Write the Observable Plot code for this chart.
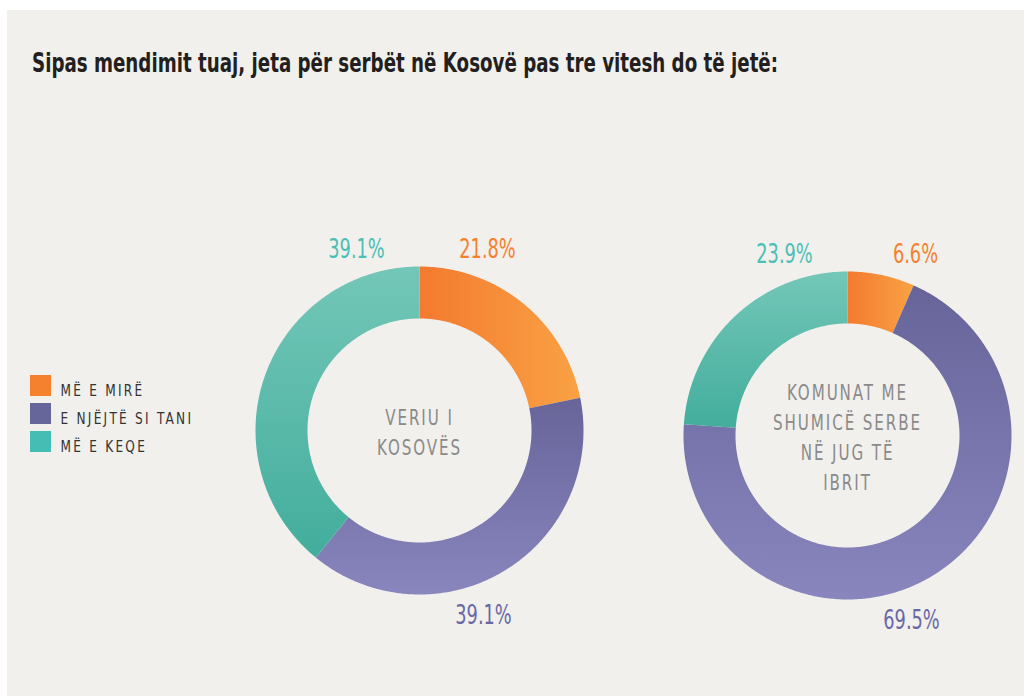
<!DOCTYPE html>
<html>
<head>
<meta charset="utf-8">
<script src="https://cdn.jsdelivr.net/npm/d3@7"></script>
<script src="https://cdn.jsdelivr.net/npm/@observablehq/plot@0.6"></script>
<style>
  html, body { margin: 0; padding: 0; background: #ffffff; }
  #frame { position: absolute; left: 7px; top: 10px; width: 1017px; height: 686px; background: #f1f0ec; overflow: hidden; }
  #title { position: absolute; left: 25px; top: 40px; margin: 0; font-family: "DejaVu Sans Condensed", "DejaVu Sans", sans-serif; font-weight: 700; font-size: 26px; line-height: 26px; color: #231f20; white-space: nowrap; transform: scaleX(0.78); transform-origin: 0 0; }
  #chart { position: absolute; left: 0; top: 90px; }
  g[aria-description="legend-text"] text { letter-spacing: 2.5px; }
  g[aria-description="center-text"] text { letter-spacing: 2.4px; }
</style>
</head>
<body>
<div id="frame">
  <div id="title">Sipas mendimit tuaj, jeta për serbët në Kosovë pas tre vitesh do të jetë:</div>
  <div id="chart"></div>
</div>
<script>
// ---- data ----
const categories = ["MË E MIRË", "E NJËJTË SI TANI", "MË E KEQE"];
const regions = ["VERIU I KOSOVËS", "KOMUNAT ME SHUMICË SERBE NË JUG TË IBRIT"];
const regionLines = [["VERIU I", "KOSOVËS"], ["KOMUNAT ME", "SHUMICË SERBE", "NË JUG TË", "IBRIT"]];
const northValues = [21.8, 39.1, 39.1];
const southValues = [6.6, 69.5, 23.9];

// ---- styling / layout ----
const FONT = '"DejaVu Sans Condensed", "DejaVu Sans", sans-serif';
const legendColors = ["#f5812f", "#67669a", "#44bdb5"];
const labelColors = ["#f5812f", "#6a68a6", "#4bbfb5"];
const gradIds = ["g-orange", "g-purple", "g-teal"];
const W = 1017, H = 596;
const donuts = [
  {cx: 412, cy: 330, values: northValues, lines: regionLines[0]},
  {cx: 840, cy: 335, values: southValues, lines: regionLines[1]}
];
const R = 164, r0 = 112;
const labelDx = [68, 64, -63];

// arc polygons computed from values
const arcPts = [];
const labels = [];
const centers = [];
donuts.forEach((d, di) => {
  let acc = 0;
  d.values.forEach((v, i) => {
    const a0 = acc / 100 * 2 * Math.PI;
    acc += v;
    const a1 = acc / 100 * 2 * Math.PI;
    const n = Math.max(2, Math.ceil((a1 - a0) / (Math.PI / 360)));
    const key = `${di}-${i}`;
    const fill = `url(#${gradIds[i]})`;
    for (let k = 0; k <= n; k++) {
      const a = a0 + (a1 - a0) * k / n;
      arcPts.push({key, fill, x: d.cx + R * Math.sin(a), y: d.cy - R * Math.cos(a)});
    }
    for (let k = n; k >= 0; k--) {
      const a = a0 + (a1 - a0) * k / n;
      arcPts.push({key, fill, x: d.cx + r0 * Math.sin(a), y: d.cy - r0 * Math.cos(a)});
    }
    labels.push({
      text: d3.format(".1f")(v) + "%",
      color: labelColors[i],
      x: d.cx + labelDx[i],
      y: i === 1 ? d.cy + R + 29 : d.cy - R - 9
    });
  });
  centers.push({text: d.lines.join("\n"), x: d.cx, y: d.cy});
});

const legendItems = categories.map((c, i) => ({
  label: c, color: legendColors[i],
  x1: 23, x2: 44, y1: 275 + i * 28, y2: 296 + i * 28
}));

function defs() {
  const g = d3.create("svg:defs");
  const lg1 = g.append("linearGradient").attr("id", "g-orange").attr("x1", 0).attr("y1", 0).attr("x2", 1).attr("y2", 0);
  lg1.append("stop").attr("offset", 0).attr("stop-color", "#f47a2f");
  lg1.append("stop").attr("offset", 1).attr("stop-color", "#f9a244");
  const lg2 = g.append("linearGradient").attr("id", "g-purple").attr("x1", 0).attr("y1", 0).attr("x2", 0).attr("y2", 1);
  lg2.append("stop").attr("offset", 0).attr("stop-color", "#67649a");
  lg2.append("stop").attr("offset", 1).attr("stop-color", "#8886bd");
  const lg3 = g.append("linearGradient").attr("id", "g-teal").attr("x1", 0).attr("y1", 0).attr("x2", 0).attr("y2", 1);
  lg3.append("stop").attr("offset", 0).attr("stop-color", "#73c7b8");
  lg3.append("stop").attr("offset", 1).attr("stop-color", "#43ad9c");
  return g.node();
}

const chart = Plot.plot({
  width: W, height: H, margin: 0,
  x: {domain: [0, W], range: [0, W], axis: null},
  y: {domain: [0, H], range: [0, H], axis: null},
  color: {type: "identity"},
  style: {background: "transparent", fontFamily: FONT, overflow: "visible"},
  marks: [
    defs,
    Plot.line(arcPts, {x: "x", y: "y", z: "key", fill: "fill", stroke: "none", curve: "linear"}),
    Plot.text(labels, {x: "x", y: "y", text: "text", fill: "color", fontSize: 26, lineAnchor: "bottom", textAnchor: "middle", ariaDescription: "pct-text"}),
    Plot.text(centers, {x: "x", y: "y", text: "text", fill: "#8a8a8a", fontSize: 21, lineHeight: 1.42, textAnchor: "middle", ariaDescription: "center-text"}),
    Plot.rect(legendItems, {x1: "x1", x2: "x2", y1: "y1", y2: "y2", fill: "color"}),
    Plot.text(legendItems, {x: 53, y: d => d.y2 - 1, text: "label", fill: "#333333", fontSize: 15, lineAnchor: "bottom", textAnchor: "start", ariaDescription: "legend-text"})
  ]
});

// narrow the glyphs horizontally to mimic the condensed typeface
function condense(desc, sx) {
  d3.select(chart).selectAll(`g[aria-description="${desc}"] text`).each(function () {
    const el = d3.select(this);
    let t = el.attr("transform");
    if (!t) {
      const x = +el.attr("x") || 0, y = +el.attr("y") || 0;
      el.attr("x", null).attr("y", null);
      t = `translate(${x},${y})`;
    }
    el.attr("transform", `${t} scale(${sx},1)`);
  });
}
condense("pct-text", 0.76);
condense("center-text", 0.8);
condense("legend-text", 0.9);

document.getElementById("chart").appendChild(chart);
</script>
</body>
</html>
